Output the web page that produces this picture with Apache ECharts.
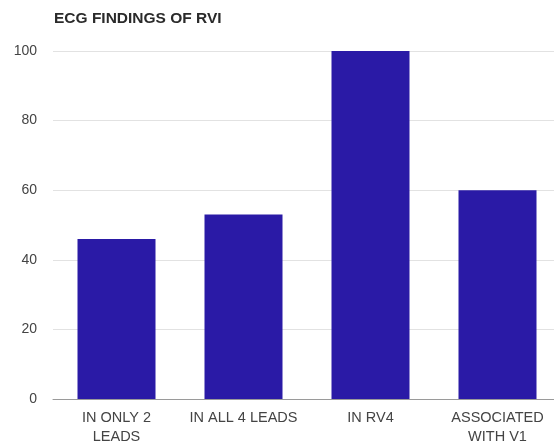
<!DOCTYPE html>
<html>
<head>
<meta charset="utf-8">
<script src="https://cdn.jsdelivr.net/npm/echarts@6/dist/echarts.min.js"></script>
<style>
  html, body { margin: 0; padding: 0; background: #fff; overflow: hidden; }
  /* plot area runs slightly past the right edge of the view */
  #chart { width: 561px; height: 447px; }
</style>
</head>
<body>
<div id="chart"></div>
<script>
// ECG findings of right ventricular involvement
const categories = ['IN ONLY 2\nLEADS', 'IN ALL 4 LEADS', 'IN RV4', 'ASSOCIATED\nWITH V1'];
const values = [46, 53, 100, 60];
const yTicks = [0, 20, 40, 60, 80, 100];

const chart = echarts.init(document.getElementById('chart'), null, { renderer: 'canvas' });
chart.setOption({
  animation: false,
  backgroundColor: '#ffffff',
  title: {
    text: 'ECG FINDINGS OF RVI',
    left: 49,
    top: 6,
    textStyle: { fontFamily: 'Liberation Sans', fontSize: 15.5, fontWeight: 'bold', color: '#2a2a2a' }
  },
  grid: { left: 53, top: 51, right: 0, height: 348 },
  xAxis: {
    type: 'category',
    data: categories,
    axisTick: { show: false },
    axisLine: { lineStyle: { color: '#9a9a9a', width: 1 } },
    axisLabel: {
      interval: 0,
      margin: 9,
      fontFamily: 'Liberation Sans',
      fontSize: 14.5,
      color: '#444',
      lineHeight: 19
    }
  },
  yAxis: {
    type: 'value',
    min: yTicks[0],
    max: yTicks[yTicks.length - 1],
    interval: 20,
    axisLine: { show: false },
    axisTick: { show: false },
    splitLine: { lineStyle: { color: '#e2e2e2', width: 1 } },
    axisLabel: {
      margin: 16,
      fontFamily: 'Liberation Sans',
      fontSize: 14,
      color: '#444'
    }
  },
  series: [{
    type: 'bar',
    data: values,
    barWidth: 78,
    itemStyle: { color: '#2a1aa6' }
  }]
});
</script>
</body>
</html>
